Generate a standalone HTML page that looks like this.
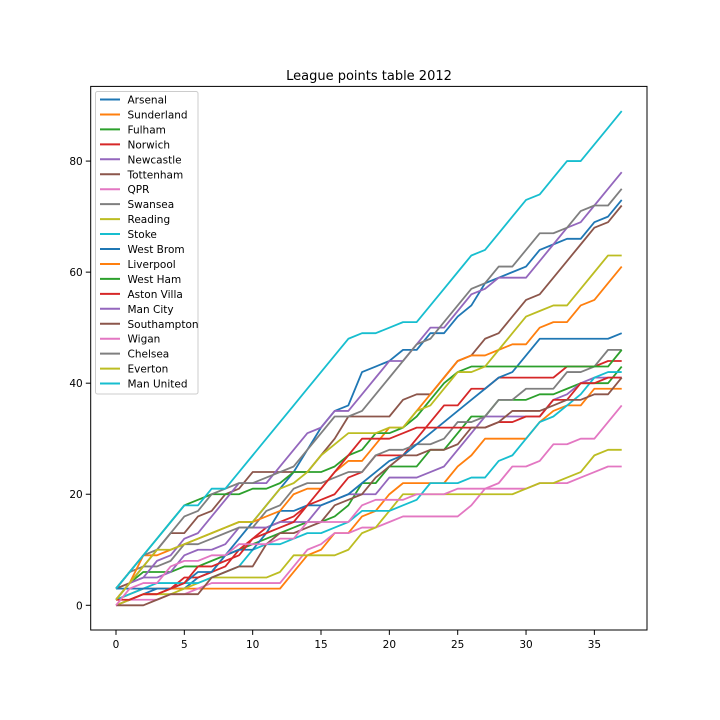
<!DOCTYPE html>
<html><head><meta charset="utf-8"><style>
body{margin:0;background:#fff;}
svg{display:block;font-family:"DejaVu Sans","Liberation Sans",sans-serif;}
</style></head><body>
<svg id="chart" width="720" height="720" viewBox="0 0 720 720" xmlns="http://www.w3.org/2000/svg">
<rect width="720" height="720" fill="#fff"/>
<text x="369" y="80" text-anchor="middle" font-size="13" fill="#000">League points table 2012</text>
<g id="plot"></g>
<g id="axes"></g>
<g id="legend"></g>
</svg>
<script>
const teams = ["Arsenal","Sunderland","Fulham","Norwich","Newcastle","Tottenham","QPR","Swansea","Reading","Stoke","West Brom","Liverpool","West Ham","Aston Villa","Man City","Southampton","Wigan","Chelsea","Everton","Man United"];
const arsenal = [0,1,2,3,3,3,5,6,9,12,15,18,21,24,28,32,35,36,42,43,44,46,46,49,49,52,54,58,59,60,61,64,65,66,66,69,70,73];
const sunderland = [1,2,3,3,3,3,3,3,3,3,3,3,3,6,9,10,13,13,16,17,20,22,22,22,22,25,27,30,30,30,30,33,35,36,36,39,39,39];
const fulham = [1,4,6,6,6,7,7,8,9,10,11,12,13,14,15,15,16,18,22,22,25,25,25,28,28,31,34,34,37,37,37,38,38,39,40,40,40,43];
const norwich = [0,1,2,2,3,5,5,6,7,10,12,14,15,16,18,19,20,23,24,27,27,27,30,33,36,36,39,39,41,41,41,41,41,43,43,43,44,44];
const newcastle = [1,4,5,5,6,9,10,10,11,14,14,14,15,15,15,18,19,20,20,20,23,23,23,24,25,28,31,34,34,34,34,34,37,38,40,41,41,41];
const tottenham = [3,4,7,10,13,13,16,17,20,21,24,24,24,24,24,27,30,34,34,34,34,37,38,38,41,44,45,48,49,52,55,56,59,62,65,68,69,72];
const qpr = [0,1,1,1,2,2,3,4,4,4,4,4,4,7,10,11,13,13,14,14,15,16,16,16,16,16,18,21,21,21,21,22,22,22,23,24,25,25];
const swansea = [3,6,7,7,8,11,11,12,13,14,14,17,18,21,22,22,23,24,24,27,28,28,29,29,30,33,33,34,37,37,39,39,39,42,42,43,46,46];
const reading = [0,1,2,2,2,3,4,5,5,5,5,5,6,9,9,9,9,10,13,14,17,20,20,20,20,20,20,20,20,20,21,22,22,23,24,27,28,28];
const stoke = [1,2,3,4,4,4,4,5,6,7,10,11,11,12,13,13,14,15,17,17,17,18,19,22,22,22,23,23,26,27,30,33,34,36,38,41,42,42];
const westBrom = [3,3,3,3,3,4,6,6,9,10,10,13,17,17,18,18,19,20,22,24,26,27,29,31,33,35,37,39,41,42,45,48,48,48,48,48,48,49];
const liverpool = [1,4,9,9,10,11,12,13,14,15,15,16,17,20,21,21,24,26,26,29,32,32,35,38,41,44,45,45,46,47,47,50,51,51,54,55,58,61];
const westHam = [3,6,9,12,15,18,19,20,20,20,21,21,22,24,24,24,25,27,28,31,31,32,34,37,40,42,43,43,43,43,43,43,43,43,43,43,43,46];
const astonVilla = [1,1,2,2,3,4,7,7,8,9,12,13,14,15,18,21,24,27,30,30,30,31,32,32,32,32,32,32,33,33,34,34,37,37,40,40,41,41];
const manCity = [1,4,5,8,9,12,13,16,19,22,22,22,25,28,31,32,35,35,38,41,44,44,47,50,50,53,56,57,59,59,59,62,65,68,69,72,75,78];
const southampton = [0,0,0,1,2,2,2,5,6,7,7,11,13,13,14,15,18,19,20,23,25,27,27,28,28,29,32,32,33,35,35,35,36,37,37,38,38,41];
const wigan = [0,3,4,4,7,8,8,9,9,11,11,11,12,12,15,15,15,15,18,19,19,19,20,20,20,21,21,21,22,25,25,26,29,29,30,30,33,36];
const chelsea = [3,6,9,10,13,16,17,20,21,22,22,23,24,25,28,31,34,34,35,38,41,44,47,48,51,54,57,58,61,61,64,67,67,68,71,72,72,75];
const everton = [1,4,7,10,10,11,12,13,14,15,15,18,21,22,24,27,29,31,31,31,32,32,35,36,39,42,42,43,46,49,52,53,54,54,57,60,63,63];
const manUnited = [3,6,9,12,15,18,18,21,21,24,27,30,33,36,39,42,45,48,49,49,50,51,51,54,57,60,63,64,67,70,73,74,77,80,80,83,86,89];
const xTicks = [0,5,10,15,20,25,30,35];
const yTicks = [0,20,40,60,80];

const series = [arsenal,sunderland,fulham,norwich,newcastle,tottenham,qpr,swansea,reading,stoke,westBrom,liverpool,westHam,astonVilla,manCity,southampton,wigan,chelsea,everton,manUnited];
const colors = ["#1f77b4","#ff7f0e","#2ca02c","#d62728","#9467bd","#8c564b","#e377c2","#7f7f7f","#bcbd22","#17becf"];
const L=90.7,R=647,T=86.4,B=630;
let ymax=0; series.forEach(s=>s.forEach(v=>{if(v>ymax)ymax=v;}));
const nmax=Math.max(...series.map(s=>s.length))-1;
const xmin=-0.05*nmax, xmax=nmax*1.05, ymn=-0.05*ymax, ymx=ymax*1.05;
const xs=v=>L+(v-xmin)/(xmax-xmin)*(R-L);
const ys=v=>B-(v-ymn)/(ymx-ymn)*(B-T);
const NS="http://www.w3.org/2000/svg";
const plot=document.getElementById('plot');
series.forEach((s,i)=>{
  const p=document.createElementNS(NS,'polyline');
  p.setAttribute('points',s.map((v,j)=>xs(j).toFixed(2)+','+ys(v).toFixed(2)).join(' '));
  p.setAttribute('fill','none');p.setAttribute('stroke',colors[i%10]);p.setAttribute('stroke-width','1.8');
  p.setAttribute('stroke-linejoin','round');
  
  
  plot.appendChild(p);
});
const axes=document.getElementById('axes');
const fr=document.createElementNS(NS,'rect');
fr.setAttribute('x',L);fr.setAttribute('y',T);fr.setAttribute('width',R-L);fr.setAttribute('height',B-T);
fr.setAttribute('fill','none');fr.setAttribute('stroke','#000');fr.setAttribute('stroke-width','1');


axes.appendChild(fr);
xTicks.forEach(t=>{
  const x=xs(t);
  const l=document.createElementNS(NS,'line');
  l.setAttribute('x1',x);l.setAttribute('x2',x);l.setAttribute('y1',B);l.setAttribute('y2',B+4.9);l.setAttribute('stroke','#000');
  
  
  axes.appendChild(l);
  const tx=document.createElementNS(NS,'text');
  tx.setAttribute('x',x);tx.setAttribute('y',B+18);tx.setAttribute('text-anchor','middle');tx.setAttribute('font-size','10.5');
  tx.textContent=t;
  
  
  axes.appendChild(tx);
});
yTicks.forEach(t=>{
  const y=ys(t);
  const l=document.createElementNS(NS,'line');
  l.setAttribute('x1',L-4.9);l.setAttribute('x2',L);l.setAttribute('y1',y);l.setAttribute('y2',y);l.setAttribute('stroke','#000');
  
  
  axes.appendChild(l);
  const tx=document.createElementNS(NS,'text');
  tx.setAttribute('x',L-8);tx.setAttribute('y',y+4);tx.setAttribute('text-anchor','end');tx.setAttribute('font-size','10.5');
  tx.textContent=t;
  
  
  axes.appendChild(tx);
});
const lg=document.getElementById('legend');
const box=document.createElementNS(NS,'rect');
box.setAttribute('x',95.5);box.setAttribute('y',91.5);box.setAttribute('width',102.5);box.setAttribute('height',302.5);
box.setAttribute('rx',2);box.setAttribute('fill','#fff');box.setAttribute('fill-opacity','0.8');box.setAttribute('stroke','#ccc');


lg.appendChild(box);
teams.forEach((n,i)=>{
  const y=99.5+i*14.95;
  const l=document.createElementNS(NS,'line');
  l.setAttribute('x1',100);l.setAttribute('x2',120);l.setAttribute('y1',y);l.setAttribute('y2',y);
  l.setAttribute('stroke',colors[i%10]);l.setAttribute('stroke-width','2');
  
  
  lg.appendChild(l);
  const tx=document.createElementNS(NS,'text');
  tx.setAttribute('x',127.5);tx.setAttribute('y',y+4);tx.setAttribute('font-size','10.5');
  tx.textContent=n;
  
  
  lg.appendChild(tx);
});
</script>
</body></html>
